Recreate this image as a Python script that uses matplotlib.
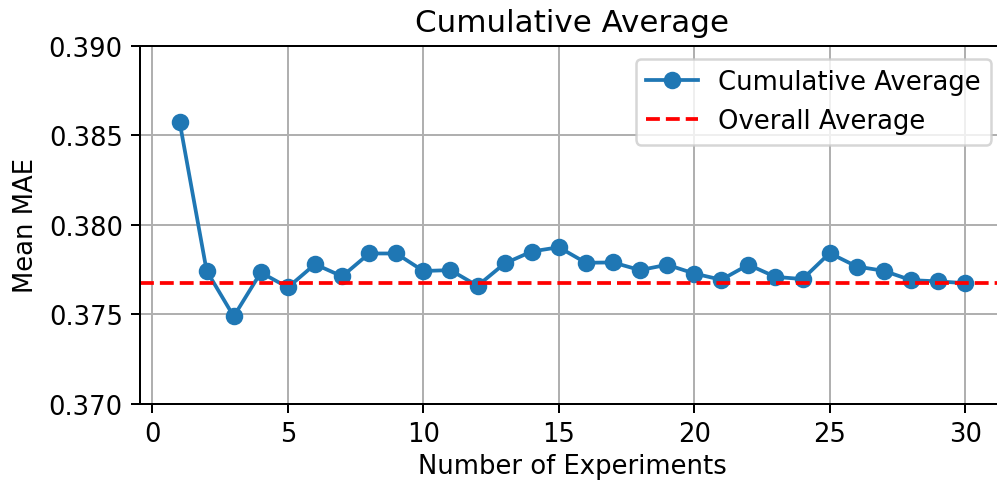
import matplotlib
matplotlib.use("Agg")
import matplotlib.pyplot as plt

# cumulative mean MAE after n experiments
experiments = list(range(1, 31))
cumulative_avg = [
    0.38578, 0.37743, 0.37488, 0.37734, 0.37650, 0.37780, 0.37712, 0.37840,
    0.37840, 0.37742, 0.37747, 0.37659, 0.37784, 0.37851, 0.37875, 0.37788,
    0.37790, 0.37747, 0.37777, 0.37728, 0.37693, 0.37777, 0.37709, 0.37697,
    0.37842, 0.37767, 0.37743, 0.37691, 0.37684, 0.37674,
]
overall_avg = 0.37674

plt.rcParams['font.size'] = 10.35

fig = plt.figure(figsize=(997 / 180, 482 / 180), dpi=180)
ax = fig.add_axes([0.1407, 0.1604, 0.8667, 0.742])

ax.plot(experiments, cumulative_avg, marker='o', label='Cumulative Average')
ax.axhline(overall_avg, color='r', linestyle='--', label='Overall Average')

ax.set_ylim(0.370, 0.390)
ax.set_yticks([0.370, 0.375, 0.380, 0.385, 0.390])
ax.set_xlabel('Number of Experiments', labelpad=2.5)
ax.set_ylabel('Mean MAE')
ax.set_title('Cumulative Average')
ax.legend(loc='upper right')
ax.grid(True)

fig.savefig('out.png', dpi=180)
